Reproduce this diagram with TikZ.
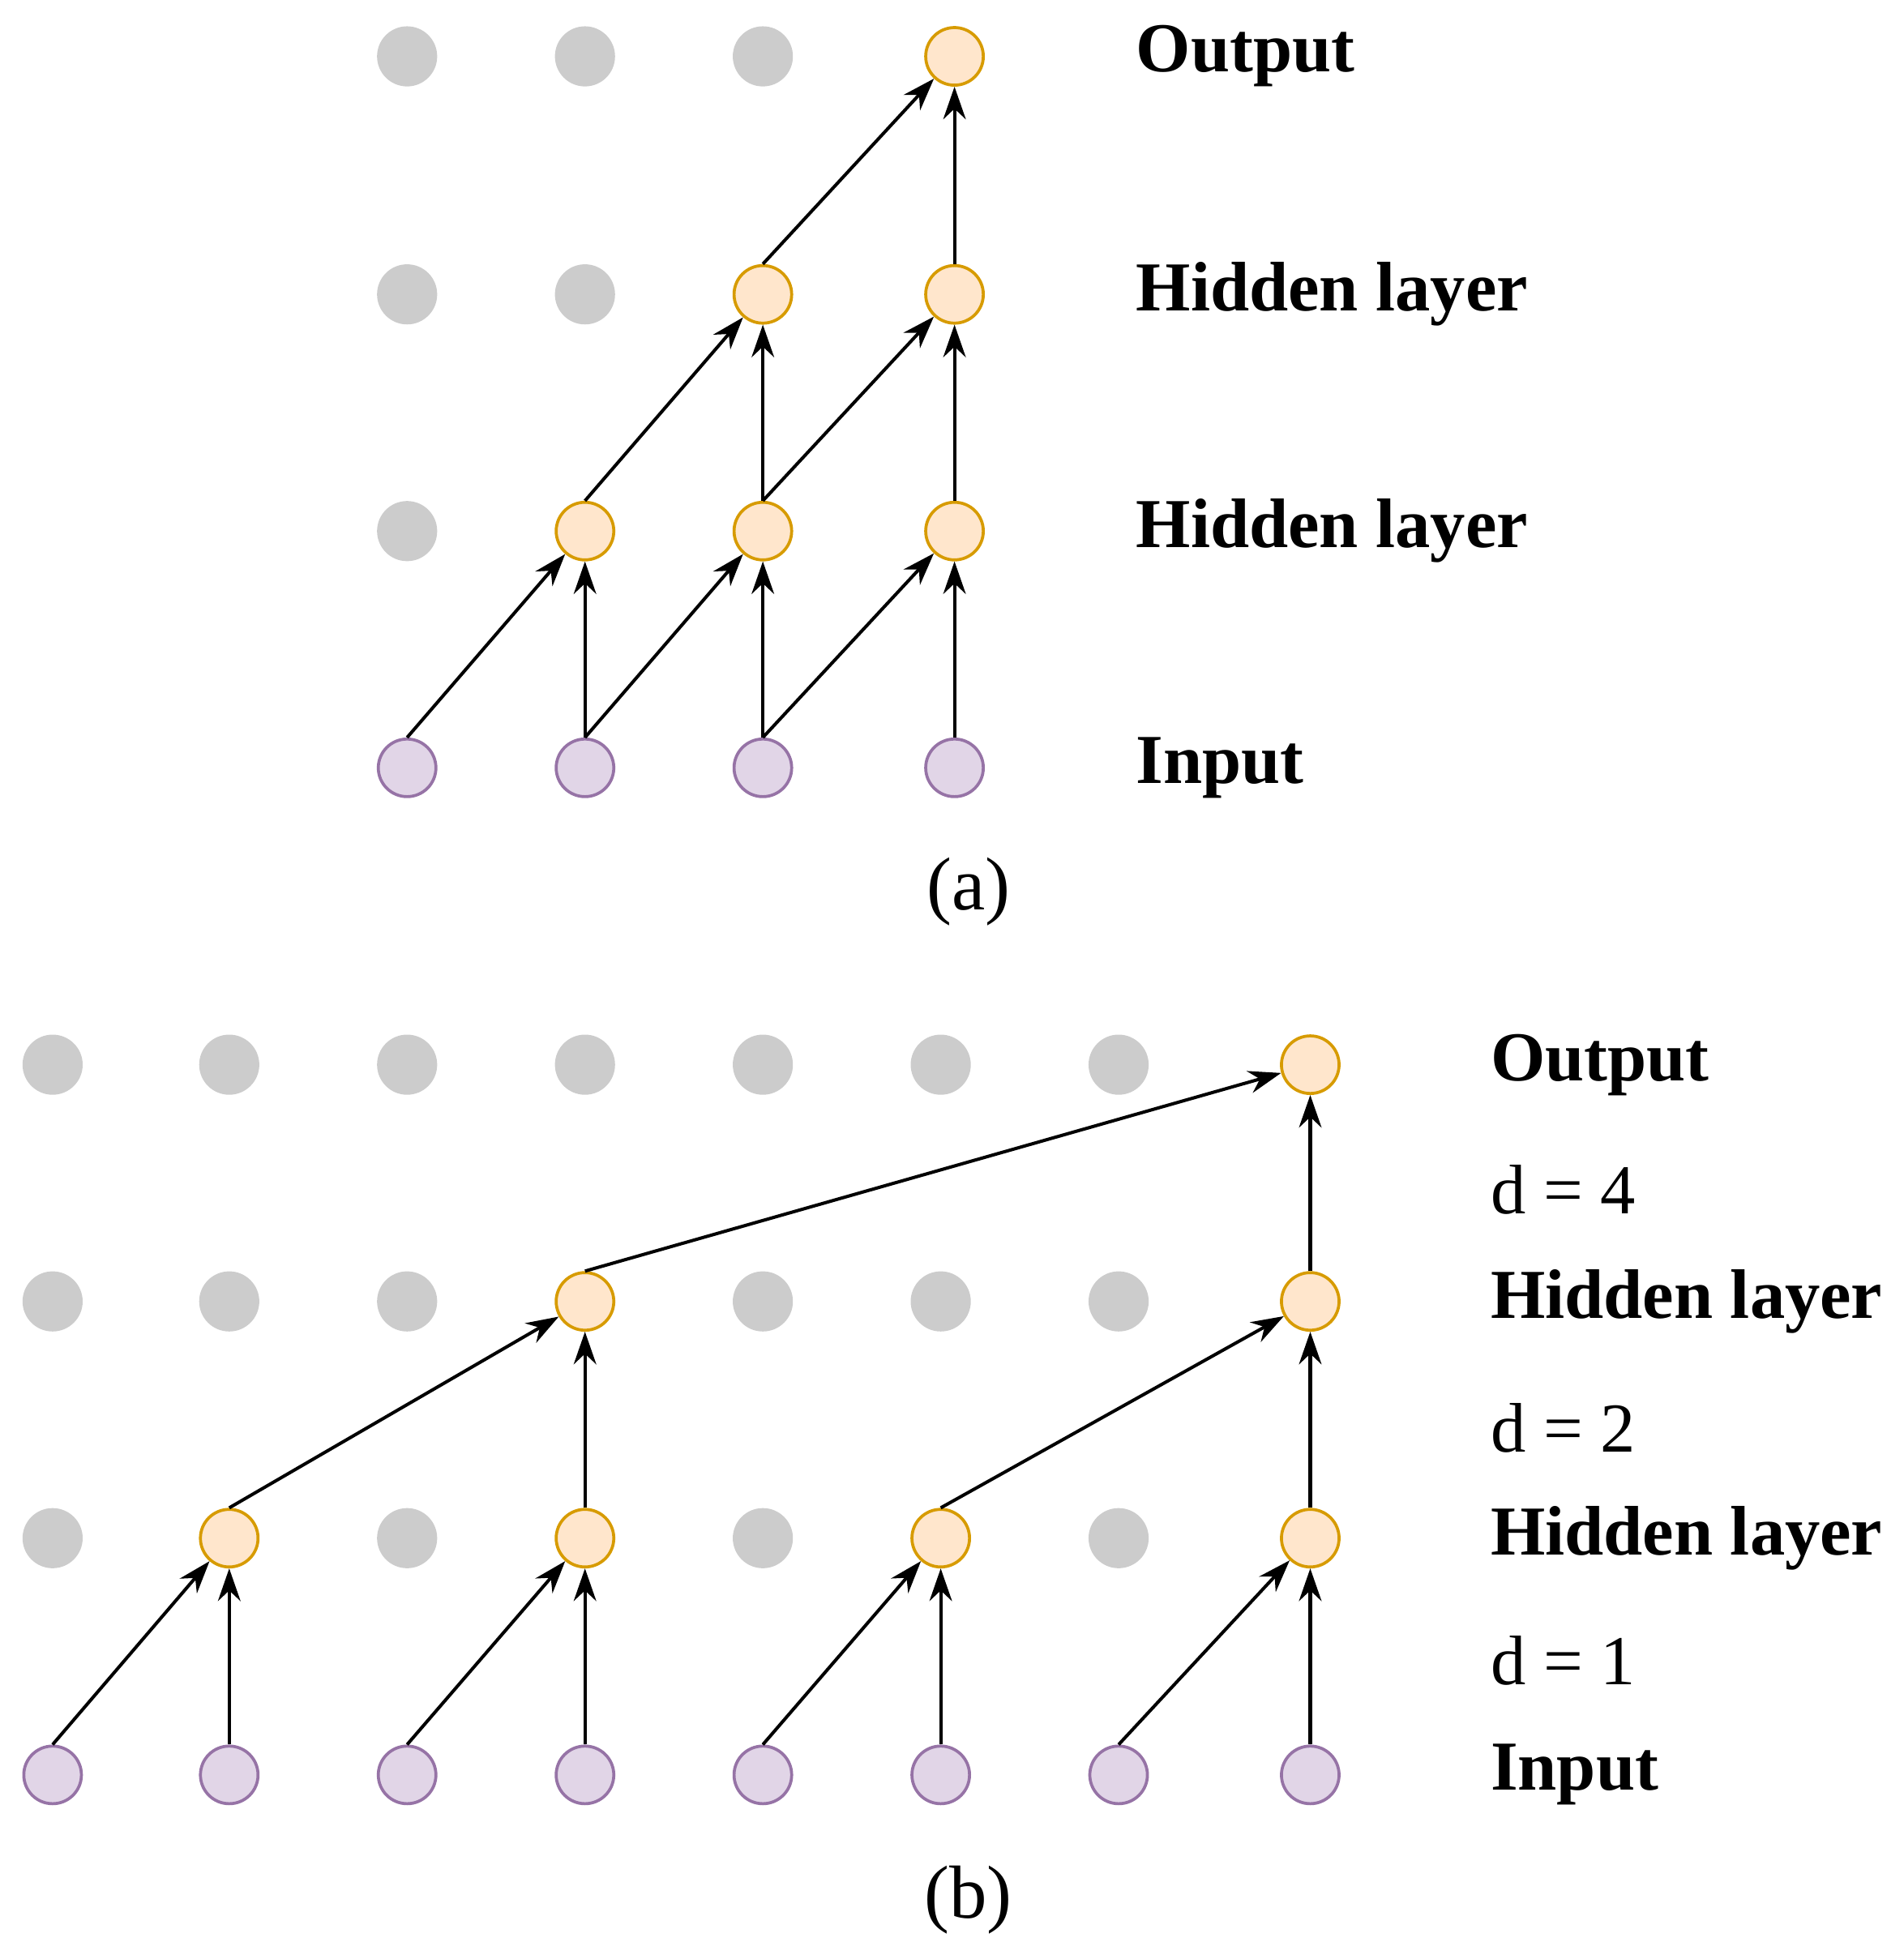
\documentclass[tikz,border=0pt]{standalone}
\usepackage{fontspec}
\setmainfont{Liberation Serif}
\usetikzlibrary{arrows.meta}
\definecolor{offfill}{RGB}{204,204,204}
\definecolor{hidfill}{RGB}{255,230,204}
\definecolor{hiddraw}{RGB}{215,155,0}
\definecolor{infill}{RGB}{225,213,231}
\definecolor{indraw}{RGB}{150,115,166}
\tikzset{
  off/.style={circle,fill=offfill,minimum size=24pt,inner sep=0pt},
  hid/.style={circle,draw=hiddraw,fill=hidfill,line width=1.2pt,minimum size=23pt,inner sep=0pt},
  inp/.style={circle,draw=indraw,fill=infill,line width=1.2pt,minimum size=23pt,inner sep=0pt},
  lab/.style={anchor=west,font=\fontsize{28}{32}\selectfont\bfseries},
  dlab/.style={anchor=west,font=\fontsize{28}{32}\selectfont},
  sublab/.style={font=\fontsize{30}{34}\selectfont},
  link/.style={-{Stealth[length=13pt,width=9pt]},line width=1.3pt}
}
\begin{document}
\begin{tikzpicture}[x=0.5pt,y=0.5pt,yscale=-1,xscale=1]
\useasboundingbox (0,0) rectangle (1520,1564);

% (a)
\foreach \i/\x in {1/325,2/467,3/609,4/762} {
  \node[inp] (a-in-\i) at (\x,613) {};
}
\node[off] (a-h1-1) at (325,424) {};
\foreach \i/\x in {2/467,3/609,4/762} \node[hid] (a-h1-\i) at (\x,424) {};
\foreach \i/\x in {1/325,2/467} \node[off] (a-h2-\i) at (\x,235) {};
\foreach \i/\x in {3/609,4/762} \node[hid] (a-h2-\i) at (\x,235) {};
\foreach \i/\x in {1/325,2/467,3/609} \node[off] (a-out-\i) at (\x,45) {};
\node[hid] (a-out-4) at (762,45) {};

\foreach \s/\t in {1/2,2/2,2/3,3/3,3/4,4/4} \draw[link] (a-in-\s.north) -- (a-h1-\t);
\foreach \s/\t in {2/3,3/3,3/4,4/4} \draw[link] (a-h1-\s.north) -- (a-h2-\t);
\foreach \s in {3,4} \draw[link] (a-h2-\s.north) -- (a-out-4);

\node[lab] (a-lout) at (900,45) {Output};
\node[lab] (a-lh2) at (900,235) {Hidden layer};
\node[lab] (a-lh1) at (900,424) {Hidden layer};
\node[lab] (a-lin) at (900,613) {Input};
\node[sublab] (a-cap) at (773,712) {(a)};

% (b)
\foreach \i/\x in {1/42,2/183,3/325,4/467,5/609,6/751,7/893,8/1046} {
  \node[inp] (b-in-\i) at (\x,1417) {};
}
\foreach \i/\x in {1/42,3/325,5/609,7/893} \node[off] (b-h1-\i) at (\x,1228) {};
\foreach \i/\x in {2/183,4/467,6/751,8/1046} \node[hid] (b-h1-\i) at (\x,1228) {};
\foreach \i/\x in {1/42,2/183,3/325,5/609,6/751,7/893} \node[off] (b-h2-\i) at (\x,1039) {};
\foreach \i/\x in {4/467,8/1046} \node[hid] (b-h2-\i) at (\x,1039) {};
\foreach \i/\x in {1/42,2/183,3/325,4/467,5/609,6/751,7/893} \node[off] (b-out-\i) at (\x,850) {};
\node[hid] (b-out-8) at (1046,850) {};

\foreach \s/\t in {1/2,2/2,3/4,4/4,5/6,6/6,7/8,8/8} \draw[link] (b-in-\s.north) -- (b-h1-\t);
\foreach \s/\t in {2/4,4/4,6/8,8/8} \draw[link] (b-h1-\s.north) -- (b-h2-\t);
\foreach \s in {4,8} \draw[link] (b-h2-\s.north) -- (b-out-8);

\node[lab] (b-lout) at (1183,850) {Output};
\node[dlab] (b-d4) at (1183,950) {d = 4};
\node[lab] (b-lh2) at (1183,1039) {Hidden layer};
\node[dlab] (b-d2) at (1183,1140) {d = 2};
\node[lab] (b-lh1) at (1183,1228) {Hidden layer};
\node[dlab] (b-d1) at (1183,1326) {d = 1};
\node[lab] (b-lin) at (1183,1417) {Input};
\node[sublab] (b-cap) at (773,1517) {(b)};
\end{tikzpicture}
\end{document}
